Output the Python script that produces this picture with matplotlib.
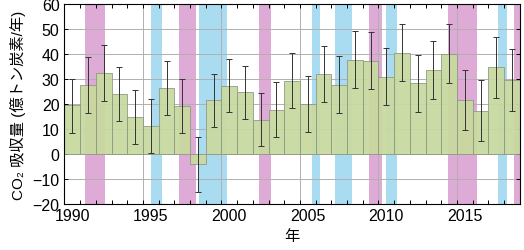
import numpy as np
import matplotlib
matplotlib.use('Agg')
from matplotlib import pyplot as plt

plt.rcParams['font.family'] = ['Liberation Sans', 'Noto Sans CJK JP', 'DejaVu Sans']

years = np.arange(1990, 2019)
uptake = [19.7, 27.5, 32.5, 24.0, 14.9, 11.3, 26.3, 19.3, -4.1, 21.6,
          27.4, 24.8, 13.6, 17.7, 29.4, 20.0, 31.9, 27.8, 37.7, 37.3,
          30.7, 40.5, 28.5, 33.8, 40.2, 21.6, 17.3, 34.9, 29.8]
err_hi = [30.1, 38.7, 43.5, 34.7, 25.7, 22.1, 37.1, 30.1, 6.8, 32.2,
          37.9, 35.4, 24.5, 28.7, 40.3, 31.1, 43.2, 39.1, 49.1, 48.7,
          42.4, 52.0, 39.8, 45.4, 52.0, 33.5, 29.8, 47.0, 41.9]
err_lo = [8.4, 16.4, 21.4, 13.2, 4.0, 0.4, 15.7, 8.5, -15.0, 10.8,
          16.8, 14.1, 3.1, 6.7, 18.4, 9.0, 20.8, 16.5, 26.6, 26.1,
          19.6, 29.1, 16.8, 22.1, 28.3, 9.6, 5.2, 22.5, 17.3]

# El Nino (pink) and La Nina (blue) periods, in fractional years
elnino = [(1991.3, 1992.6), (1997.3, 1998.4), (2002.4, 2003.15),
          (2009.4, 2010.2), (2014.4, 2016.3), (2018.6, 2019.0)]
lanina = [(1995.5, 1996.2), (1998.6, 2000.35), (2005.75, 2006.25),
          (2007.25, 2008.3), (2010.5, 2011.2), (2017.6, 2018.2)]

fig = plt.figure(figsize=(5.24, 2.51), dpi=100)
ax = fig.add_axes([0.123, 0.183, 0.869, 0.797])

for a, b in elnino:
    ax.axvspan(a, b, color='#deaad6', lw=0, zorder=0)
for a, b in lanina:
    ax.axvspan(a, b, color='#a9dcf0', lw=0, zorder=0)

for x in range(1995, 2019, 5):
    ax.axvline(x, color='#b0b0b0', lw=0.7, zorder=1)
for y in range(-10, 60, 10):
    ax.axhline(y, color='#b0b0b0', lw=0.7, zorder=1)

up = np.array(uptake)
yerr = [up - np.array(err_lo), np.array(err_hi) - up]
ax.bar(years + 0.5, up, width=1.0, color='#c9d9a0', edgecolor='#8c9680',
       linewidth=0.6, alpha=0.95, zorder=2)
ax.errorbar(years + 0.5, up, yerr=yerr, fmt='none', ecolor='#333333',
            elinewidth=0.7, capsize=2.5, capthick=0.7, zorder=3)

ax.set_xlim(1990, 2019)
ax.set_ylim(-20, 60)
ax.set_yticks(range(-20, 61, 10))
ax.set_xticks(range(1990, 2020), minor=False)
ax.set_xticklabels([])
ax.set_xticks([y + 0.5 for y in range(1990, 2019, 5)], minor=True)
ax.set_xticklabels([str(y) for y in range(1990, 2019, 5)], minor=True)
ax.tick_params(axis='x', which='major', direction='in', length=3, top=True, width=0.7)
ax.tick_params(axis='x', which='minor', length=0, labelsize=11.5, pad=3)
ax.tick_params(axis='y', direction='in', length=3, right=True, labelsize=11.5, width=0.7)
for s in ax.spines.values():
    s.set_linewidth(0.8)
    s.set_zorder(4)

ax.set_ylabel('CO\u2082 吸収量 (億トン炭素/年)', fontsize=11, labelpad=5)
ax.set_xlabel('年', fontsize=11, labelpad=4)

fig.savefig('out.png', dpi=100)
